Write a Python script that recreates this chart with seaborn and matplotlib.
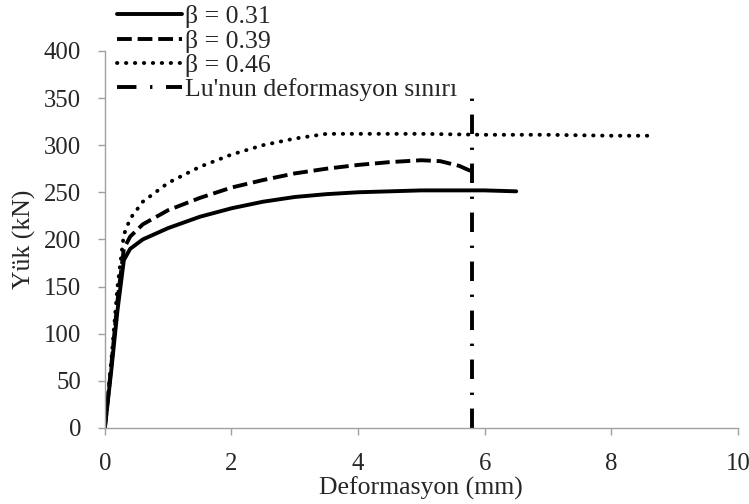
import numpy as np
import matplotlib
matplotlib.use('Agg')
import matplotlib.pyplot as plt
import seaborn as sns

# Veriler (grafikten okunan yaklaşık değerler)
x_031 = [0, 0.1, 0.2, 0.3, 0.4, 0.6, 1.0, 1.5, 2.0, 2.5, 3.0, 3.5, 4.0, 4.5, 5.0, 5.5, 6.0, 6.5]
y_031 = [0, 60, 125, 178, 190, 200, 212, 224, 233, 240, 245, 248, 250, 251, 252, 252, 252, 251]

x_039 = [0, 0.1, 0.2, 0.3, 0.4, 0.6, 1.0, 1.5, 2.0, 2.5, 3.0, 3.5, 4.0, 4.5, 5.0, 5.3, 5.6, 5.8]
y_039 = [0, 65, 135, 190, 203, 216, 231, 244, 255, 263, 270, 275, 279, 282, 284, 283, 278, 272]

x_046 = [0, 0.1, 0.2, 0.3, 0.4, 0.6, 1.0, 1.5, 2.0, 2.5, 3.0, 3.5, 4.0, 5.0, 6.0, 7.0, 8.0, 8.7]
y_046 = [0, 70, 150, 205, 222, 240, 260, 277, 290, 300, 307, 312, 312, 312, 311, 311, 310, 310]

lu_x = [5.8, 5.8]
lu_y = [0, 350]

labels = ['β = 0.31', 'β = 0.39', 'β = 0.46', "Lu'nun deformasyon sınırı"]

sns.set_style('white')
plt.rcParams['font.family'] = ['Liberation Serif', 'DejaVu Serif']

fig = plt.figure(figsize=(7.49, 5.04), dpi=100)
ax = fig.add_axes([0.140, 0.151, 0.845, 0.748])

sns.lineplot(x=x_031, y=y_031, ax=ax, color='black', linewidth=2.8, sort=False,
             estimator=None, label=labels[0])
sns.lineplot(x=x_039, y=y_039, ax=ax, color='black', linewidth=2.8, sort=False,
             estimator=None, label=labels[1])
ax.lines[-1].set_dashes([3.8, 1.5])
sns.lineplot(x=x_046, y=y_046, ax=ax, color='black', linewidth=2.8, sort=False,
             estimator=None, label=labels[2])
ax.lines[-1].set_dashes([0.1, 2.2])
ax.lines[-1].set_dash_capstyle('round')
sns.lineplot(x=lu_x, y=lu_y, ax=ax, color='black', linewidth=2.8, sort=False,
             estimator=None, label=labels[3])
ax.lines[-1].set_dashes([5, 3.5, 0.6, 3.5])

ax.set_xlim(0, 10)
ax.set_ylim(0, 400)
ax.set_xticks(range(0, 11, 2))
ax.set_yticks(range(0, 401, 50))
ax.set_xlabel('Deformasyon (mm)', fontsize=18.5, labelpad=1)
ax.set_ylabel('Yük (kN)', fontsize=18.5, labelpad=6)
ax.tick_params(axis='both', labelsize=17.8, direction='out', length=5, color='#a0a0a0',
               left=True, bottom=True, width=1)
ax.tick_params(axis='y', pad=12)
ax.tick_params(axis='x', pad=13)
for s in ['top', 'right']:
    ax.spines[s].set_visible(False)
for s in ['left', 'bottom']:
    ax.spines[s].set_color('#a0a0a0')
    ax.spines[s].set_linewidth(1)

ax.legend(loc='upper left', bbox_to_anchor=(0.1425, 1.01), bbox_transform=fig.transFigure,
          frameon=False, fontsize=18.5, handlelength=2.53, handletextpad=0.12,
          labelspacing=0.05, borderaxespad=0)

fig.savefig('out.png', dpi=100)
